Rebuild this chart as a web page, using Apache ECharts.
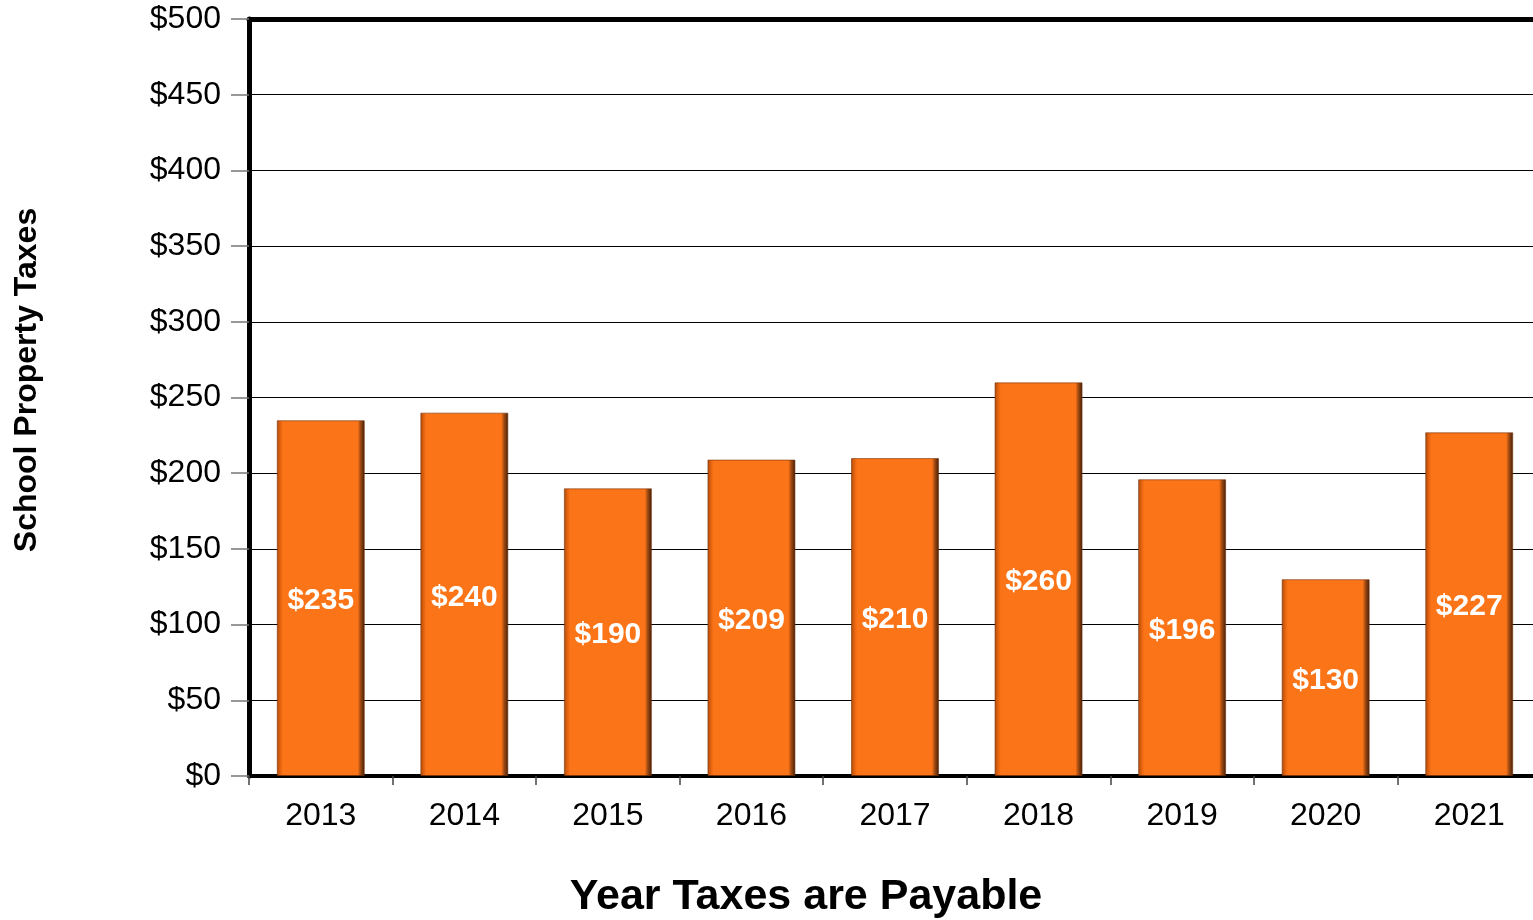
<!DOCTYPE html>
<html>
<head>
<meta charset="utf-8">
<script src="https://cdn.jsdelivr.net/npm/echarts@6/dist/echarts.min.js"></script>
<style>
  html, body { margin: 0; padding: 0; background: #fff; overflow: hidden; }
  #chart { width: 1545px; height: 920px; }
</style>
</head>
<body>
<div id="chart"></div>
<script>
// school property taxes by year payable
const years = ['2013', '2014', '2015', '2016', '2017', '2018', '2019', '2020', '2021'];
const taxes = [235, 240, 190, 209, 210, 260, 196, 130, 227];

const font = '"Liberation Sans", Arial, sans-serif';
const barOrange = '#FB7417';

const chart = echarts.init(document.getElementById('chart'));

const option = {
  backgroundColor: '#fff',
  animation: false,
  grid: { left: 249, top: 19, right: 4, height: 757 },
  xAxis: [
    {
      type: 'category',
      data: years,
      position: 'bottom',
      axisLine: { lineStyle: { color: '#000', width: 4 } },
      axisTick: { show: true, length: 9, lineStyle: { color: '#444', width: 1.5 } },
      axisLabel: { color: '#000', fontSize: 32, fontFamily: font, margin: 24 }
    },
    {
      type: 'category',
      data: years,
      position: 'top',
      axisLine: { lineStyle: { color: '#000', width: 5 } },
      axisTick: { show: false },
      axisLabel: { show: false }
    }
  ],
  yAxis: {
    type: 'value',
    min: 0,
    max: 500,
    interval: 50,
    axisLine: { show: true, lineStyle: { color: '#000', width: 5 } },
    axisTick: { show: true, length: 18, lineStyle: { color: '#777', width: 1.5 } },
    axisLabel: {
      color: '#000', fontSize: 32, fontFamily: font, margin: 28,
      formatter: v => '$' + v
    },
    splitLine: { lineStyle: { color: '#000', width: 1 } }
  },
  graphic: [
    {
      type: 'text',
      x: 27, y: 380,
      rotation: Math.PI / 2,
      style: {
        text: 'School Property Taxes',
        font: 'bold 32px ' + font,
        fill: '#000',
        textAlign: 'center',
        textVerticalAlign: 'middle'
      }
    },
    {
      type: 'text',
      x: 806, y: 897,
      style: {
        text: 'Year Taxes are Payable',
        font: 'bold 43px ' + font,
        fill: '#000',
        textAlign: 'center',
        textVerticalAlign: 'middle'
      }
    }
  ],
  series: [
    {
      type: 'bar',
      data: taxes,
      barWidth: 88,
      itemStyle: {
        color: new echarts.graphic.LinearGradient(0, 0, 1, 0, [
          { offset: 0, color: '#A94A0C' },
          { offset: 0.04, color: '#E4630F' },
          { offset: 0.07, color: barOrange },
          { offset: 0.92, color: barOrange },
          { offset: 0.95, color: '#A44C12' },
          { offset: 1, color: '#3E1C06' }
        ]),
        borderColor: 'rgba(120,50,10,0.6)',
        borderWidth: 1
      },
      label: {
        show: true,
        position: 'inside',
        offset: [0, 3],
        color: '#fff',
        fontSize: 30,
        fontWeight: 'bold',
        fontFamily: font,
        formatter: p => '$' + p.value
      }
    }
  ]
};

chart.setOption(option);
</script>
</body>
</html>
